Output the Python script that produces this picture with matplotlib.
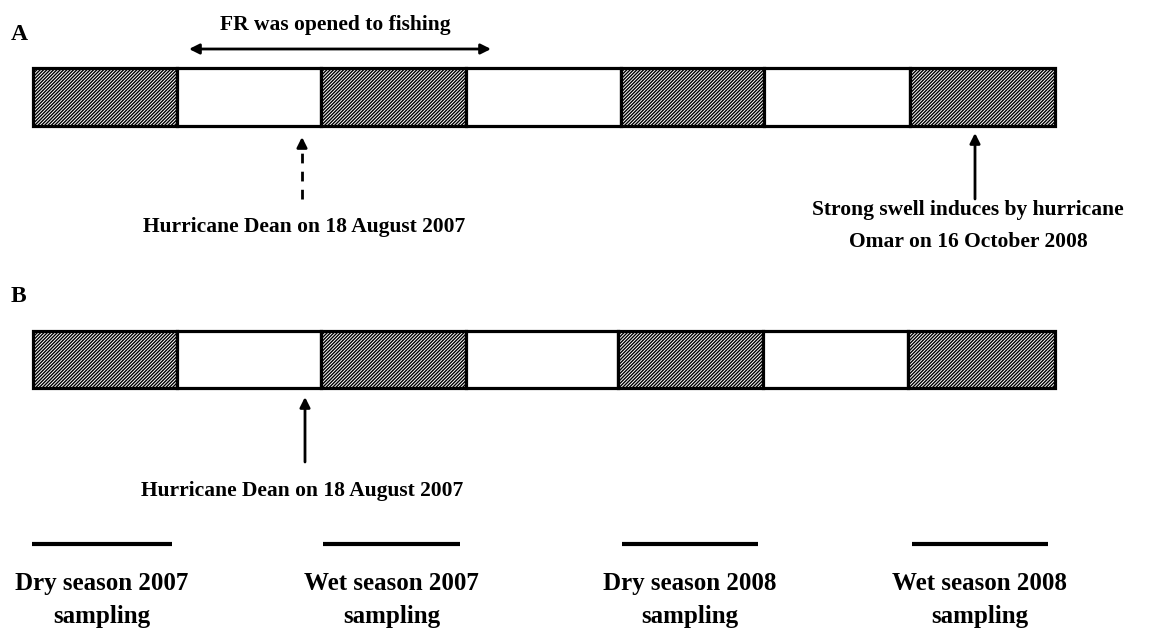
import numpy as np
from matplotlib import pyplot as plt

plt.rcParams['font.family'] = ['Liberation Serif', 'DejaVu Serif']
plt.rcParams['font.weight'] = 'bold'
plt.rcParams['hatch.linewidth'] = 1.0

# season blocks along the timeline (edges, in picture px), hatched = dry season
edges_a = [33, 177, 321, 466, 621, 764, 910, 1055]
edges_b = [33, 177, 321, 466, 618, 763, 908, 1055]
hatched = [True, False, True, False, True, False, True]

sampling_labels = ['Dry season 2007\nsampling', 'Wet season 2007\nsampling',
                   'Dry season 2008\nsampling', 'Wet season 2008\nsampling']
sampling_spans = [(32, 172), (323, 460), (622, 758), (912, 1048)]

fig = plt.figure(figsize=(11.5, 6.34), dpi=100)
ax = fig.add_axes([0, 0, 1, 1])
ax.set_xlim(0, 1150)
ax.set_ylim(634, 0)
ax.axis('off')


def timeline(edges, yc, h):
    edges = np.array(edges)
    lefts = edges[:-1]
    widths = np.diff(edges)
    for l, w, hh in zip(lefts, widths, hatched):
        ax.barh(yc, w, height=h, left=l, color='white', edgecolor='black',
                linewidth=2.3, hatch='//////////' if hh else None, zorder=2)


def arrow(x, y0, y1, lw=2.0, ms=15):
    ax.annotate('', xy=(x, y1), xytext=(x, y0),
                arrowprops=dict(arrowstyle='-|>', color='black', lw=lw,
                                mutation_scale=ms, shrinkA=0, shrinkB=0))


# ---- panel A
ax.text(11, 35, 'A', fontsize=17, ha='left', va='center')
timeline(edges_a, 97, 58)
ax.text(335, 25, 'FR was opened to fishing', fontsize=15.5, ha='center', va='center')
ax.annotate('', xy=(189, 49), xytext=(491, 49),
            arrowprops=dict(arrowstyle='<|-|>', color='black', lw=2.0,
                            mutation_scale=15, shrinkA=0, shrinkB=0))
# dashed arrow for Dean
ax.plot([302, 302], [199, 146], color='black', lw=2.0, linestyle=(0, (3.5, 3)))
arrow(302, 147, 137)
ax.text(304, 227, 'Hurricane Dean on 18 August 2007', fontsize=15.5, ha='center', va='center')
arrow(975, 199, 133)
ax.text(968, 226, 'Strong swell induces by hurricane\nOmar on 16 October 2008',
        fontsize=15.5, ha='center', va='center', multialignment='center', linespacing=1.8)

# ---- panel B
ax.text(11, 296, 'B', fontsize=17, ha='left', va='center')
timeline(edges_b, 359.5, 57)
arrow(305, 462, 397)
ax.text(302, 491, 'Hurricane Dean on 18 August 2007', fontsize=15.5, ha='center', va='center')

# ---- sampling periods
for (x0, x1), lab in zip(sampling_spans, sampling_labels):
    ax.plot([x0, x1], [544, 544], color='black', lw=3.0, solid_capstyle='butt')
    ax.text((x0 + x1) / 2, 600, lab, fontsize=18, ha='center', va='center',
            multialignment='center', linespacing=1.6)

fig.savefig('out.png', dpi=100, facecolor='white')
